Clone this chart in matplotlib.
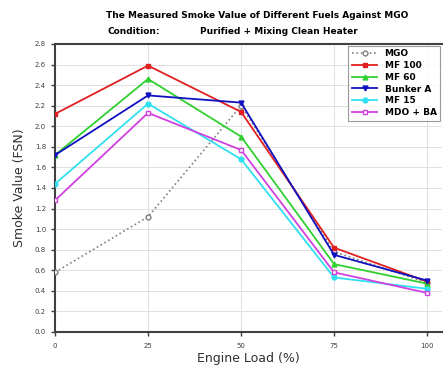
import matplotlib
matplotlib.use('Agg')
import matplotlib.pyplot as plt
import numpy as np

load = [0, 25, 50, 75, 100]
mgo = [0.58, 1.12, 2.20, 0.78, 0.48]
mf100 = [2.12, 2.59, 2.14, 0.82, 0.49]
mf60 = [1.72, 2.46, 1.90, 0.66, 0.47]
bunker_a = [1.72, 2.30, 2.23, 0.75, 0.50]
mf15 = [1.44, 2.22, 1.68, 0.53, 0.42]
mdo_ba = [1.28, 2.13, 1.77, 0.58, 0.38]

fig = plt.figure(figsize=(4.44, 3.72), dpi=100)
ax = fig.add_axes([55 / 444, 40 / 372, 387 / 444, 288 / 372])

ax.plot(load, mgo, ls=':', color='#808080', marker='o', ms=3.5, mfc='white', mec='#808080', lw=1.2, label='MGO', zorder=3)
ax.plot(load, mf100, color='#e02020', marker='s', ms=3.5, lw=1.3, label='MF 100', zorder=4)
ax.plot(load, mf60, color='#30d030', marker='^', ms=3.5, lw=1.3, label='MF 60', zorder=4)
ax.plot(load, bunker_a, color='#1010c0', marker='v', ms=3.5, lw=1.3, label='Bunker A', zorder=4)
ax.plot(load, mf15, color='#30e0f0', marker='o', ms=3.5, lw=1.3, label='MF 15', zorder=4)
ax.plot(load, mdo_ba, color='#d040e0', marker='s', ms=3.5, mfc='white', lw=1.3, label='MDO + BA', zorder=4)

ax.set_xlim(0, 104)
ax.set_ylim(0, 2.8)
ax.set_xticks(load)
ax.set_yticks(np.arange(0, 2.81, 0.2))
ax.set_yticklabels(['%.1f' % v for v in np.arange(0, 2.81, 0.2)])
ax.grid(True, color='#e0e0e0', lw=0.7)
ax.set_axisbelow(True)

for side in ['left', 'bottom', 'top']:
    ax.spines[side].set_color('#404040')
    ax.spines[side].set_linewidth(1.5)
ax.spines['right'].set_visible(False)
ax.tick_params(axis='both', labelsize=5, colors='#404040', direction='out', length=3, width=1)
ax.tick_params(axis='x', pad=5)

ax.set_xlabel('Engine Load (%)', fontsize=9, color='#303030', labelpad=2)
ax.set_ylabel('Smoke Value (FSN)', fontsize=9, color='#303030', labelpad=6)

fig.text(257 / 444, 1 - 15 / 372, 'The Measured Smoke Value of Different Fuels Against MGO',
         ha='center', va='center', fontsize=6.5, fontweight='bold')
fig.text(107 / 444, 1 - 32 / 372, 'Condition:', ha='left', va='center', fontsize=6.5, fontweight='bold')
fig.text(200 / 444, 1 - 32 / 372, 'Purified + Mixing Clean Heater', ha='left', va='center',
         fontsize=6.5, fontweight='bold')

leg = ax.legend(loc='upper right', prop={'weight': 'bold', 'size': 6.5},
                frameon=True, fancybox=False, edgecolor='#808080', borderaxespad=0.2,
                handlelength=2.8, labelspacing=0.3, borderpad=0.4)
leg.get_frame().set_linewidth(0.8)

plt.savefig('out.png', dpi=100)
